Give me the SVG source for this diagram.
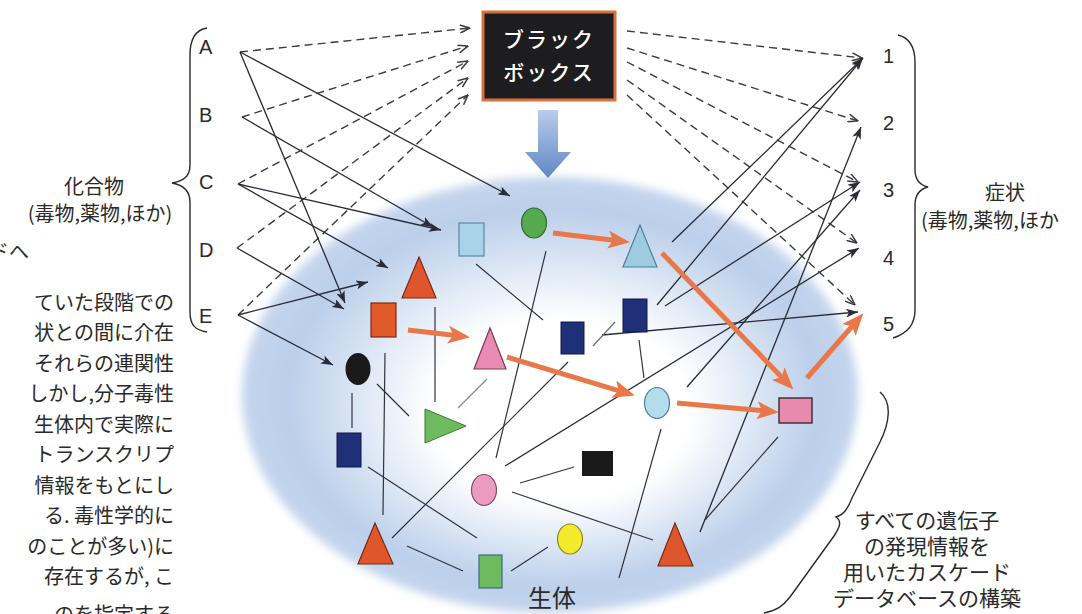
<svg xmlns="http://www.w3.org/2000/svg" width="1082" height="614" viewBox="0 0 1082 614">
<style>
.jp{font-family:"Noto Sans CJK JP","Noto Sans",sans-serif;fill:#2a2a2a}
.lat{font-family:"Liberation Sans",Arial,sans-serif;fill:#2a2a2a;font-size:20px}
.dash{stroke:#3a3a40;stroke-width:1.4;stroke-dasharray:8 5;fill:none;marker-end:url(#openArr)}
.sol{stroke:#2a2a38;stroke-width:1.3;fill:none;marker-end:url(#solArr)}
.thin{stroke:#33333d;stroke-width:1.2;fill:none}
.org{stroke:#e8784a;stroke-width:5;fill:none;marker-end:url(#orgArr)}
.brace{stroke:#2a2a2a;stroke-width:1.4;fill:none}
.para{font-size:20px}
.note{font-size:21px}
</style>
<defs>
<marker id="openArr" viewBox="0 0 11 9" refX="10.5" refY="4.5" markerWidth="11" markerHeight="9" markerUnits="userSpaceOnUse" orient="auto">
<path d="M0.5,0.5 L10.5,4.5 L0.5,8.5" fill="none" stroke="#3a3a40" stroke-width="1.5"/>
</marker>
<marker id="solArr" viewBox="0 0 12 9" refX="12" refY="4.5" markerWidth="12" markerHeight="9" markerUnits="userSpaceOnUse" orient="auto">
<path d="M0,0 L12,4.5 L0,9 L3,4.5 z" fill="#2a2a38"/>
</marker>
<marker id="orgArr" viewBox="0 0 22 18" refX="10" refY="9" markerWidth="22" markerHeight="18" markerUnits="userSpaceOnUse" orient="auto">
<path d="M0,0 L22,9 L0,18 L5,9 z" fill="#e8784a"/>
</marker>
<radialGradient id="blobG" cx="0.5" cy="0.5" r="0.5" fx="0.53" fy="0.56">
<stop offset="0" stop-color="#ffffff"/>
<stop offset="0.42" stop-color="#ffffff"/>
<stop offset="0.66" stop-color="#dae5f4"/>
<stop offset="0.86" stop-color="#bccfea"/>
<stop offset="1" stop-color="#c4d5ed"/>
</radialGradient>
<filter id="soft" x="-10%" y="-10%" width="120%" height="120%">
<feGaussianBlur stdDeviation="5"/>
</filter>
<linearGradient id="arrG" x1="0" y1="0" x2="0" y2="1">
<stop offset="0" stop-color="#b9cdea"/>
<stop offset="1" stop-color="#5f86c6"/>
</linearGradient>
</defs>

<rect width="1082" height="614" fill="#ffffff"/>

<g id="organism">
<ellipse cx="550" cy="395" rx="308" ry="218" fill="url(#blobG)" filter="url(#soft)"/>
<text class="jp" x="552" y="607" font-size="24" text-anchor="middle">生体</text>
</g>

<g id="blackbox">
<rect x="483" y="12" width="132" height="88" fill="#1d1d1f" stroke="#d8703c" stroke-width="3"/>
<text class="jp" x="549" y="47" font-size="21" font-weight="500" text-anchor="middle" style="fill:#ffffff" letter-spacing="2">ブラック</text>
<text class="jp" x="549" y="80" font-size="21" font-weight="500" text-anchor="middle" style="fill:#ffffff" letter-spacing="2">ボックス</text>
</g>
<g id="down-arrow">
<polygon points="538,110 558,110 558,152 571,152 548,178 525,152 538,152" fill="url(#arrG)"/>
</g>

<g id="compounds">
<text class="lat" x="199" y="54">A</text>
<text class="lat" x="199" y="122">B</text>
<text class="lat" x="199" y="189">C</text>
<text class="lat" x="199" y="257">D</text>
<text class="lat" x="199" y="323">E</text>
<path class="brace" d="M207,28 C195,30 190,40 190,55 L190,165 C190,177 183,181 172,183 C183,185 190,190 190,202 L190,312 C190,325 195,330 207,332"/>
<text class="jp" x="94" y="194" font-size="20" text-anchor="middle">化合物</text>
<text class="jp" x="100" y="221" font-size="20" text-anchor="middle">(毒物,薬物,ほか)</text>
</g>

<g id="symptoms">
<text class="lat" x="883" y="63">1</text>
<text class="lat" x="883" y="130">2</text>
<text class="lat" x="883" y="197">3</text>
<text class="lat" x="883" y="265">4</text>
<text class="lat" x="883" y="331">5</text>
<path class="brace" d="M898,35 C910,38 915,48 915,62 L915,170 C915,180 920,185 928,187 C920,189 915,195 915,205 L915,310 C915,325 906,334 893,338"/>
<text class="jp" x="1005" y="200" font-size="20" text-anchor="middle">症状</text>
<text class="jp" x="921" y="228" font-size="20">(毒物,薬物,ほか</text>
</g>

<g id="left-paragraph" class="jp para">
<text x="-11" y="259">ドへ</text>
<text x="174" y="310" text-anchor="end">ていた段階での</text>
<text x="174" y="340" text-anchor="end">状との間に介在</text>
<text x="174" y="371" text-anchor="end">それらの連関性</text>
<text x="174" y="401" text-anchor="end">しかし,分子毒性</text>
<text x="174" y="432" text-anchor="end">生体内で実際に</text>
<text x="174" y="462" text-anchor="end">トランスクリプ</text>
<text x="174" y="493" text-anchor="end">情報をもとにし</text>
<text x="174" y="523" text-anchor="end">る. 毒性学的に</text>
<text x="174" y="554" text-anchor="end">のことが多い)に</text>
<text x="174" y="584" text-anchor="end">存在するが, こ</text>
<text x="174" y="622" text-anchor="end">のを指定する</text>
</g>

<g id="database-note">
<path class="brace" d="M880,392 C892,402 890,422 880,442 L852,498 C848,508 844,515 836,517 C842,521 840,527 834,536 L790,597 C783,606 776,611 764,613"/>
<text class="jp note" x="927" y="528" text-anchor="middle">すべての遺伝子</text>
<text class="jp note" x="927" y="554" text-anchor="middle">の発現情報を</text>
<text class="jp note" x="927" y="580" text-anchor="middle">用いたカスケード</text>
<text class="jp note" x="927" y="606" text-anchor="middle">データベースの構築</text>
</g>

<g id="connectors">
<line class="dash" x1="240" y1="52" x2="470" y2="28"/>
<line class="dash" x1="242" y1="117" x2="468" y2="46"/>
<line class="dash" x1="238" y1="184" x2="468" y2="61"/>
<line class="dash" x1="237" y1="248" x2="468" y2="78"/>
<line class="dash" x1="238" y1="315" x2="468" y2="95"/>
<line class="dash" x1="627" y1="31" x2="862" y2="58"/>
<line class="dash" x1="627" y1="48" x2="858" y2="121"/>
<line class="dash" x1="627" y1="62" x2="858" y2="182"/>
<line class="dash" x1="627" y1="80" x2="857" y2="243"/>
<line class="dash" x1="627" y1="95" x2="855" y2="305"/>
<line class="sol" x1="240" y1="52" x2="510" y2="196"/>
<line class="sol" x1="240" y1="52" x2="345" y2="303"/>
<line class="sol" x1="242" y1="117" x2="433" y2="227"/>
<line class="sol" x1="238" y1="184" x2="441" y2="230"/>
<line class="sol" x1="238" y1="184" x2="388" y2="268"/>
<line class="sol" x1="237" y1="248" x2="344" y2="309"/>
<line class="sol" x1="238" y1="315" x2="368" y2="282"/>
<line class="sol" x1="238" y1="315" x2="333" y2="365"/>
<line class="sol" x1="672" y1="242" x2="863" y2="58"/>
<line class="sol" x1="657" y1="305" x2="863" y2="58"/>
<line class="sol" x1="665" y1="306" x2="860" y2="182"/>
<line class="sol" x1="687" y1="387" x2="860" y2="190"/>
<line class="sol" x1="505" y1="466" x2="859" y2="248"/>
<line class="sol" x1="700" y1="532" x2="861" y2="127"/>
<line class="sol" x1="602" y1="335" x2="858" y2="312"/>
<line class="thin" x1="476" y1="264" x2="543" y2="320"/>
<line class="thin" x1="546" y1="251" x2="496" y2="458"/>
<line class="thin" x1="435" y1="307" x2="435" y2="402"/>
<line class="thin" x1="385" y1="353" x2="383" y2="515"/>
<line class="thin" x1="352" y1="393" x2="352" y2="428"/>
<line class="thin" x1="377" y1="384" x2="409" y2="416"/>
<line class="thin" x1="487" y1="379" x2="458" y2="408" style="stroke:#8a8a90"/>
<line class="thin" x1="568" y1="362" x2="392" y2="538"/>
<line class="thin" x1="615" y1="322" x2="593" y2="346" style="stroke:#6a6a75"/>
<line class="thin" x1="639" y1="340" x2="644" y2="378"/>
<line class="thin" x1="520" y1="483" x2="574" y2="467"/>
<line class="thin" x1="512" y1="492" x2="653" y2="540"/>
<line class="thin" x1="368" y1="467" x2="477" y2="538"/>
<line class="thin" x1="407" y1="546" x2="463" y2="571"/>
<line class="thin" x1="511" y1="571" x2="548" y2="547"/>
<line class="thin" x1="661" y1="429" x2="619" y2="578"/>
<line class="thin" x1="705" y1="520" x2="778" y2="437"/>
<line class="org" x1="553" y1="233" x2="618.1" y2="240.8"/>
<line class="org" x1="408" y1="330" x2="458.1" y2="335.8"/>
<line class="org" x1="507" y1="357" x2="623.4" y2="392.1"/>
<line class="org" x1="662" y1="253" x2="785.1" y2="380.8"/>
<line class="org" x1="677" y1="403" x2="767" y2="411.1"/>
<line class="org" x1="807" y1="378" x2="855.4" y2="322.5"/>
</g>

<g id="n-lightblue-rect"><rect x="459" y="223" width="25" height="33" fill="#a9d3e8" stroke="#5a8aa2" stroke-width="1.2"/></g>
<g id="n-green-circle"><ellipse cx="534" cy="223" rx="12.5" ry="15" fill="#55a94f" stroke="#2f6b2c" stroke-width="1.2"/></g>
<g id="n-lightblue-tri"><polygon points="640,225 623,267 657,267" fill="#9fcbe0" stroke="#4f7f96" stroke-width="1.2"/></g>
<g id="n-red-tri"><polygon points="419,257 402,298 436,298" fill="#e0562c" stroke="#7a2a12" stroke-width="1.2"/></g>
<g id="n-red-rect"><rect x="371" y="303" width="25" height="34" fill="#e05a2a" stroke="#7a2a12" stroke-width="1.2"/></g>
<g id="n-pink-tri"><polygon points="490,328 474,369 506,369" fill="#e98ab2" stroke="#7a3a55" stroke-width="1.2"/></g>
<g id="n-navy-rect1"><rect x="561" y="322" width="23" height="32" fill="#1f2f78" stroke="#10184a" stroke-width="1"/></g>
<g id="n-navy-rect2"><rect x="623" y="299" width="24" height="33" fill="#1f2f78" stroke="#10184a" stroke-width="1"/></g>
<g id="n-black-circle"><ellipse cx="358" cy="369" rx="12.5" ry="16" fill="#1a1a1a"/></g>
<g id="n-green-tri"><polygon points="425,409 425,443 466,426" fill="#6dbb5e" stroke="#3d7a33" stroke-width="1"/></g>
<g id="n-navy-rect3"><rect x="337" y="433" width="24" height="34" fill="#1f2f78" stroke="#10184a" stroke-width="1"/></g>
<g id="n-pink-circle"><ellipse cx="484" cy="490" rx="12.5" ry="15.5" fill="#ec9bc0" stroke="#8a4a66" stroke-width="1.2"/></g>
<g id="n-black-rect"><rect x="582" y="451" width="31" height="25" fill="#1a1a1a"/></g>
<g id="n-lightblue-circle"><ellipse cx="657" cy="403" rx="12.5" ry="15.5" fill="#b3dcec" stroke="#4f7f96" stroke-width="1.2"/></g>
<g id="n-pink-rect"><rect x="779" y="398" width="33" height="25" fill="#e889ae" stroke="#3a2a30" stroke-width="1.4"/></g>
<g id="n-red-tri2"><polygon points="375,523 358,564 393,564" fill="#e0562c" stroke="#7a2a12" stroke-width="1.2"/></g>
<g id="n-green-rect"><rect x="479" y="555" width="23" height="33" fill="#6dbb5e" stroke="#3a6a8a" stroke-width="1.2"/></g>
<g id="n-yellow-circle"><ellipse cx="570" cy="539" rx="12.5" ry="15" fill="#f2ea2a" stroke="#8a8a2a" stroke-width="1.2"/></g>
<g id="n-red-tri3"><polygon points="675,523 658,566 693,566" fill="#e0562c" stroke="#7a2a12" stroke-width="1.2"/></g>
</svg>
